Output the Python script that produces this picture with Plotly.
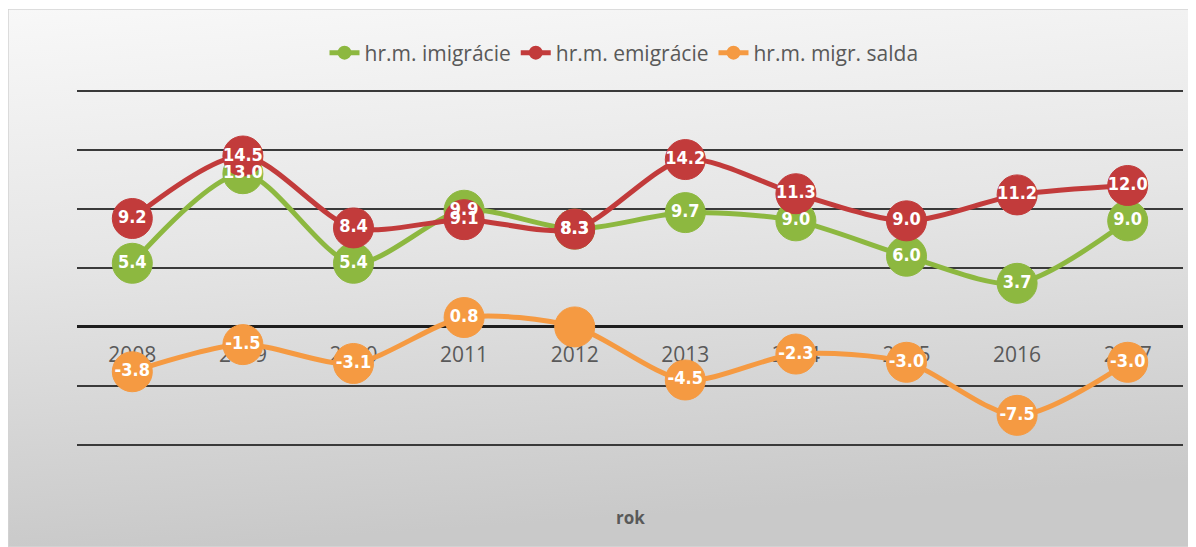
import plotly.graph_objects as go

years = ["2008", "2009", "2010", "2011", "2012", "2013", "2014", "2015", "2016", "2017"]
imigracie = [5.4, 13.0, 5.4, 9.9, 8.3, 9.7, 9.0, 6.0, 3.7, 9.0]
emigracie = [9.2, 14.5, 8.4, 9.1, 8.3, 14.2, 11.3, 9.0, 11.2, 12.0]
salda = [-3.8, -1.5, -3.1, 0.8, 0.0, -4.5, -2.3, -3.0, -7.5, -3.0]
salda_labels = ["-3.8", "-1.5", "-3.1", "0.8", "", "-4.5", "-2.3", "-3.0", "-7.5", "-3.0"]

names = ["hr.m. imigrácie", "hr.m. emigrácie", "hr.m. migr. salda"]
colors = ["#8DB840", "#C23B3B", "#F59A42"]

# figure sits at (8, 8) in the page because of the default body margin
W, H = 1188, 539
YMIN, YMAX = -10.1, 20.1
ML, MR, MT, MB = 69, 13, 82, 101
PW, PH = W - ML - MR, H - MT - MB

def px_x(p):
    return (p - ML) / PW

def px_y(p):
    return (H - MB - p) / PH

fig = go.Figure()

series = [imigracie, emigracie, salda]
labels = [[f"{v:.1f}" for v in imigracie], [f"{v:.1f}" for v in emigracie], salda_labels]

for vals, name, col in zip(series, names, colors):
    fig.add_trace(go.Scatter(
        x=years, y=vals, name=name, mode="lines+markers",
        line=dict(color=col, width=5, shape="spline", smoothing=0.8),
        marker=dict(color=col, size=40, line=dict(color=col, width=1)),
        hoverinfo="skip",
    ))

for vals, labs in zip(series, labels):
    fig.add_trace(go.Scatter(
        x=years, y=vals, mode="text", text=[f"<b>{t}</b>" if t else "" for t in labs],
        textposition="middle center",
        textfont=dict(color="white", size=18,
                      family="DejaVu Sans Condensed, Liberation Sans Narrow, Roboto"),
        showlegend=False, hoverinfo="skip",
    ))

grad_svg = (
    "data:image/svg+xml;utf8,"
    "<svg xmlns='http://www.w3.org/2000/svg' width='1188' height='538' viewBox='0 0 1188 538' preserveAspectRatio='none'>"
    "<defs><linearGradient id='g' x1='0' y1='0' x2='0.15' y2='1'>"
    "<stop offset='0' stop-color='%23f8f8f8'/>"
    "<stop offset='0.45' stop-color='%23e6e6e6'/>"
    "<stop offset='1' stop-color='%23c9c9c9'/>"
    "</linearGradient></defs>"
    "<rect x='0' y='0' width='1188' height='538' fill='url(%23g)' stroke='%23d4d4d4' stroke-width='1.5'/>"
    "</svg>"
)

fig.add_layout_image(dict(
    source=grad_svg, xref="paper", yref="paper",
    x=px_x(0), y=px_y(1), sizex=W / PW, sizey=(H - 1) / PH,
    xanchor="left", yanchor="top", sizing="stretch", layer="below",
))

fig.add_annotation(
    text="<b>rok</b>", xref="paper", yref="paper", x=0.5, y=px_y(509),
    showarrow=False, font=dict(size=17, color="#595959", family="Open Sans"),
    xanchor="center", yanchor="middle",
)

fig.update_layout(
    width=W, height=H,
    margin=dict(l=ML, r=MR, t=MT, b=MB),
    paper_bgcolor="white", plot_bgcolor="rgba(0,0,0,0)",
    font=dict(family="Open Sans", color="#595959"),
    showlegend=True,
    legend=dict(
        orientation="h", x=px_x(616), xanchor="center", y=px_y(45), yanchor="middle",
        font=dict(size=21, color="#595959", family="Open Sans"),
        bgcolor="rgba(0,0,0,0)", itemsizing="constant", itemwidth=30,
        tracegroupgap=0,
    ),
    xaxis=dict(
        type="category", categoryorder="array", categoryarray=years,
        range=[-0.5, len(years) - 0.5],
        anchor="free", position=(0 - YMIN) / (YMAX - YMIN),
        showgrid=False, showline=False, zeroline=False, ticks="",
        tickfont=dict(size=21, color="#595959", family="Open Sans"),
        ticklabelstandoff=13, layer="below traces",
    ),
    yaxis=dict(
        range=[YMIN, YMAX], dtick=5, tick0=0,
        showticklabels=False, ticks="",
        showgrid=True, gridcolor="#3a3a3a", gridwidth=2,
        zeroline=True, zerolinecolor="#1e1e1e", zerolinewidth=3,
        showline=False, layer="below traces",
    ),
)

fig.write_html("out.html")
